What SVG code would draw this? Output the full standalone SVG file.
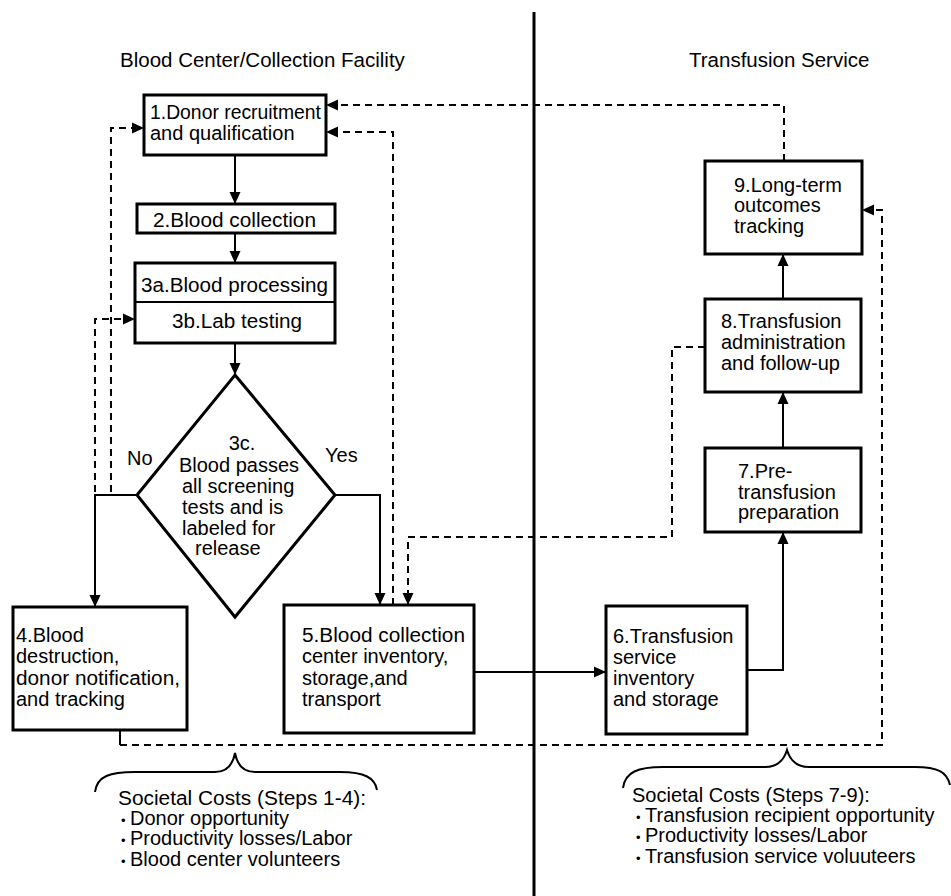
<svg xmlns="http://www.w3.org/2000/svg" width="951" height="896" viewBox="0 0 951 896">
<defs>
<marker id="ah" markerWidth="12" markerHeight="12" viewBox="0 0 12 12" refX="11" refY="6" orient="auto" markerUnits="userSpaceOnUse">
<path d="M0,0.5 L12,6 L0,11.5 Z" fill="#000"/>
</marker>
</defs>
<style>
text{font-family:"Liberation Sans",Arial,sans-serif;font-size:20px;fill:#000}
.box{fill:#fff;stroke:#000;stroke-width:3}
.ln{fill:none;stroke:#000;stroke-width:2}
.ds{fill:none;stroke:#000;stroke-width:2;stroke-dasharray:7,5}
.br{fill:none;stroke:#000;stroke-width:2}
.b{font-size:13px}
</style>
<rect width="951" height="896" fill="#fff"/>
<line x1="534" y1="12" x2="534" y2="896" stroke="#000" stroke-width="3"/>
<g id="headers">
<text x="120" y="67" style="font-size:20.5px">Blood Center/Collection Facility</text>
<text x="689" y="67" style="font-size:20.5px">Transfusion Service</text>
</g>
<g id="connectors">
<path class="ln" d="M235,155 V203" marker-end="url(#ah)"/>
<path class="ln" d="M235,233 V262" marker-end="url(#ah)"/>
<path class="ln" d="M235,343 V374" marker-end="url(#ah)"/>
<path class="ln" d="M137,495 H95 V606" marker-end="url(#ah)"/>
<path class="ln" d="M335,495 H380 V604" marker-end="url(#ah)"/>
<path class="ln" d="M474,672 H605" marker-end="url(#ah)"/>
<path class="ln" d="M747,670 H783 V533" marker-end="url(#ah)"/>
<path class="ln" d="M783,448 V393" marker-end="url(#ah)"/>
<path class="ln" d="M783,299 V255" marker-end="url(#ah)"/>
<path class="ds" d="M95,492 V319 H134" marker-end="url(#ah)"/>
<path class="ds" d="M111,492 V128 H143" marker-end="url(#ah)"/>
<path class="ds" d="M393,605 V132 H327" marker-end="url(#ah)"/>
<path class="ds" d="M784,161 V105 H327" marker-end="url(#ah)"/>
<path class="ds" d="M705,347 H672 V537 H408 V604" marker-end="url(#ah)"/>
<path class="ln" d="M120,730 V745"/>
<path class="ds" d="M120,745 H882 V210 H863" marker-end="url(#ah)"/>
</g>
<g id="n1"><rect class="box" x="144" y="95" width="182" height="60"/>
<text x="150" y="119" textLength="171" lengthAdjust="spacingAndGlyphs">1.Donor recruitment</text><text x="150" y="140">and qualification</text></g>
<g id="n2"><rect class="box" x="137" y="204" width="198" height="29"/>
<text x="153" y="227" textLength="163" lengthAdjust="spacingAndGlyphs">2.Blood collection</text></g>
<g id="n3"><rect class="box" x="135" y="263" width="200" height="80"/>
<line x1="135" y1="302" x2="335" y2="302" stroke="#000" stroke-width="2"/>
<text x="141" y="292" textLength="187" lengthAdjust="spacingAndGlyphs">3a.Blood processing</text><text x="172" y="328" textLength="130" lengthAdjust="spacingAndGlyphs">3b.Lab testing</text></g>
<g id="n3c"><path class="box" d="M235,375 L335,495 L235,617 L137,495 Z"/>
<text x="242" y="450" text-anchor="middle">3c.</text>
<text x="239" y="472" text-anchor="middle">Blood passes</text>
<text x="182" y="493">all screening</text>
<text x="182" y="514">tests and is</text>
<text x="182" y="535">labeled for</text>
<text x="195" y="555">release</text></g>
<g id="labels"><text x="127" y="465">No</text><text x="325" y="462">Yes</text></g>
<g id="n4"><rect class="box" x="13" y="607" width="174" height="123"/>
<text x="16" y="642">4.Blood</text><text x="16" y="663">destruction,</text><text x="16" y="685" textLength="164" lengthAdjust="spacingAndGlyphs">donor notification,</text><text x="16" y="706">and tracking</text></g>
<g id="n5"><rect class="box" x="284" y="605" width="190" height="128"/>
<text x="302" y="642" textLength="163" lengthAdjust="spacingAndGlyphs">5.Blood collection</text><text x="302" y="663">center inventory,</text><text x="302" y="685">storage,and</text><text x="302" y="706">transport</text></g>
<g id="n6"><rect class="box" x="606" y="606" width="141" height="128"/>
<text x="613" y="643">6.Transfusion</text><text x="613" y="664">service</text><text x="613" y="685">inventory</text><text x="613" y="706">and storage</text></g>
<g id="n7"><rect class="box" x="705" y="448" width="156" height="84"/>
<text x="738" y="478">7.Pre-</text><text x="738" y="499">transfusion</text><text x="738" y="519">preparation</text></g>
<g id="n8"><rect class="box" x="705" y="299" width="156" height="93"/>
<text x="721" y="328">8.Transfusion</text><text x="721" y="349">administration</text><text x="721" y="370">and follow-up</text></g>
<g id="n9"><rect class="box" x="705" y="161" width="157" height="93"/>
<text x="734" y="192">9.Long-term</text><text x="734" y="212">outcomes</text><text x="734" y="233">tracking</text></g>
<g id="brace1"><path class="br" d="M95,792 C97,776 110,772 135,772 H215 C228,772 233,764 235,753 C237,764 242,772 255,772 H340 C365,772 375,778 377,790"/></g>
<g id="brace2"><path class="br" d="M623,788 C625,772 638,767 663,767 H765 C778,767 784,760 787,750 C790,760 796,767 809,767 H915 C938,767 947,772 950,785"/></g>
<g id="costs1">
<text x="118" y="805" textLength="248" lengthAdjust="spacingAndGlyphs">Societal Costs (Steps 1-4):</text>
<text x="121" y="825"><tspan class="b">•</tspan><tspan x="130">Donor opportunity</tspan></text>
<text x="121" y="845"><tspan class="b">•</tspan><tspan x="130">Productivity losses/Labor</tspan></text>
<text x="121" y="866"><tspan class="b">•</tspan><tspan x="130">Blood center volunteers</tspan></text>
</g>
<g id="costs2">
<text x="632" y="802">Societal Costs (Steps 7-9):</text>
<text x="636" y="822"><tspan class="b">•</tspan><tspan x="645">Transfusion recipient opportunity</tspan></text>
<text x="636" y="842"><tspan class="b">•</tspan><tspan x="645">Productivity losses/Labor</tspan></text>
<text x="636" y="863"><tspan class="b">•</tspan><tspan x="645">Transfusion service voluuteers</tspan></text>
</g>
</svg>
